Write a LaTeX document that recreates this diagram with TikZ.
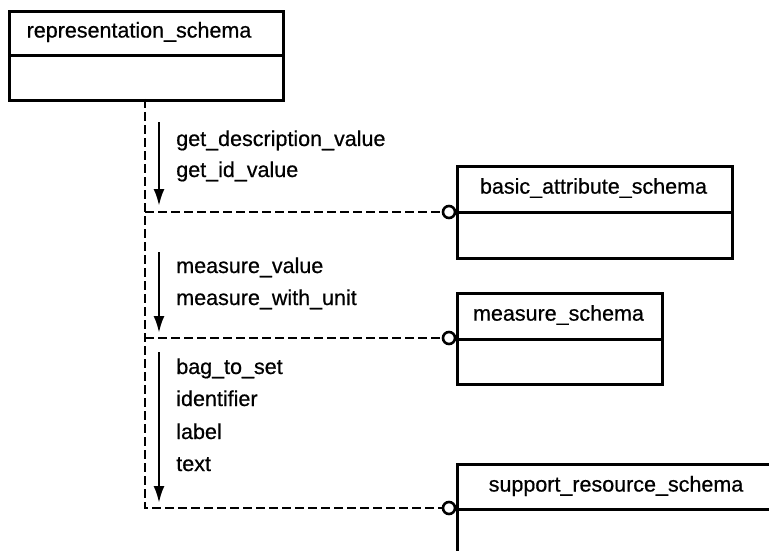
\documentclass[tikz,border=0pt]{standalone}
\usepackage{fontspec}
\setmainfont[FakeBold=0.6]{Liberation Sans}
\usetikzlibrary{arrows.meta}
\begin{document}
\begin{tikzpicture}[x=1pt,y=-1pt, line width=2.6pt,
 box/.style={draw, line width=2.6pt, inner sep=0pt, anchor=north west},
 lbl/.style={font=\fontsize{21.5}{24}\selectfont, anchor=base west, inner sep=0pt},
 ttl/.style={font=\fontsize{21.5}{24}\selectfont, inner sep=0pt},
 dep/.style={dash pattern=on 9pt off 4pt, line width=2.6pt},
 flow/.style={-{Latex[length=17pt,width=11pt]}, line width=2.6pt},
 lolli/.style={draw, circle, minimum size=12pt, inner sep=0pt, fill=white, line width=2.6pt}]
\path[use as bounding box, clip] (0,0) rectangle (769,551);
% representation_schema
\node[box, minimum width=274pt, minimum height=44pt] (repH) at (8,10) {};
\node[box, minimum width=274pt, minimum height=45pt] (repB) at (8,54) {};
\node[ttl] (repT) at (139,32) {representation\_schema};
% basic_attribute_schema
\node[box, minimum width=275pt, minimum height=46pt] (basH) at (456,165) {};
\node[box, minimum width=275pt, minimum height=46pt] (basB) at (456,211) {};
\node[ttl] (basT) at (593.5,188) {basic\_attribute\_schema};
% measure_schema
\node[box, minimum width=205pt, minimum height=46pt] (meaH) at (456,292) {};
\node[box, minimum width=205pt, minimum height=45pt] (meaB) at (456,338) {};
\node[ttl] (meaT) at (558.5,315) {measure\_schema};
% support_resource_schema
\node[box, minimum width=320pt, minimum height=45pt] (supH) at (456,463) {};
\node[box, minimum width=320pt, minimum height=70pt] (supB) at (456,508) {};
\node[ttl] (supT) at (616,486) {support\_resource\_schema};
% lollipops
\node[lolli] (c1) at (449,212) {};
\node[lolli] (c2) at (449,338) {};
\node[lolli] (c3) at (449,508) {};
% dependency lines
\coordinate (trunk) at (145,99);
\draw[dep] (trunk) |- (c3.west);
\draw[dep] (trunk |- c1) -- (c1.west);
\draw[dep] (trunk |- c2) -- (c2.west);
% flow arrows
\coordinate (a1s) at (159,122);
\coordinate (a1e) at (159,206);
\coordinate (a2s) at (159,252);
\coordinate (a2e) at (159,333);
\coordinate (a3s) at (159,352);
\coordinate (a3e) at (159,503);
\draw[flow] (a1s) -- (a1e);
\draw[flow] (a2s) -- (a2e);
\draw[flow] (a3s) -- (a3e);
% labels
\node[lbl] (l1) at (175,146) {get\_description\_value};
\node[lbl] (l2) at (175,177) {get\_id\_value};
\node[lbl] (l3) at (175,273) {measure\_value};
\node[lbl] (l4) at (175,305) {measure\_with\_unit};
\node[lbl] (l5) at (175,374) {bag\_to\_set};
\node[lbl] (l6) at (175,406) {identifier};
\node[lbl] (l7) at (175,439) {label};
\node[lbl] (l8) at (175,471) {text};
\end{tikzpicture}
\end{document}
